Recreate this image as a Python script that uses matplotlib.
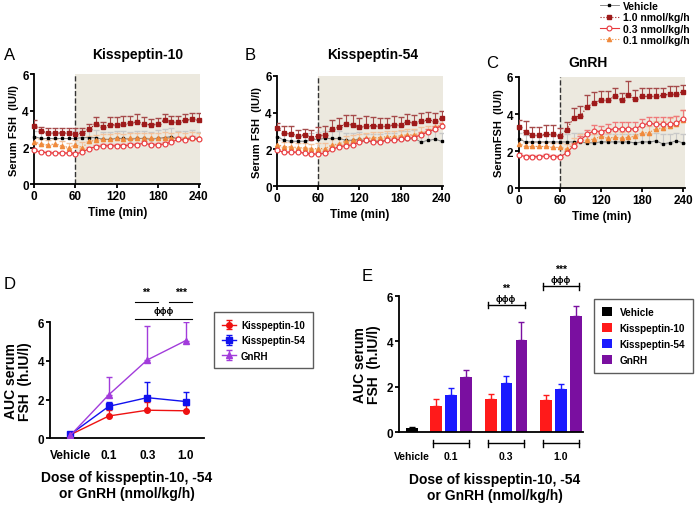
import numpy as np
import matplotlib.pyplot as plt

plt.rcParams['font.family'] = ['Liberation Sans', 'DejaVu Sans']
plt.rcParams['font.weight'] = 'bold'

# ---------------- time course data (panels A-C) ----------------
time = [0, 10, 20, 30, 40, 50, 60, 70, 80, 90, 100, 110, 120, 130, 140, 150,
        160, 170, 180, 190, 200, 210, 220, 230, 240]

# Kisspeptin-10
a_veh = [2.6, 2.5, 2.5, 2.5, 2.5, 2.5, 2.5, 2.55, 2.55, 2.55, 2.45, 2.45, 2.5, 2.5, 2.45, 2.5,
         2.5, 2.45, 2.5, 2.55, 2.6, 2.45, 2.45, 2.55, 2.45]
a_10 = [3.2, 2.9, 2.8, 2.8, 2.8, 2.8, 2.75, 2.8, 3.0, 3.3, 3.1, 3.25, 3.25, 3.3, 3.35, 3.4,
        3.3, 3.25, 3.3, 3.5, 3.4, 3.4, 3.5, 3.55, 3.5]
a_03 = [1.85, 1.75, 1.72, 1.7, 1.7, 1.7, 1.65, 1.75, 1.95, 2.05, 2.1, 2.1, 2.1, 2.1, 2.15, 2.15,
        2.25, 2.15, 2.15, 2.2, 2.3, 2.45, 2.4, 2.5, 2.45]
a_01 = [2.3, 2.2, 2.15, 2.2, 2.1, 2.0, 2.15, 2.0, 2.35, 2.4, 2.45, 2.45, 2.5, 2.45, 2.5, 2.5,
        2.5, 2.5, 2.5, 2.55, 2.5, 2.55, 2.5, 2.55, 2.5]
a_veh_err = [0.3, 0.35, 0.35, 0.35, 0.35, 0.4, 0.4, 0.35, 0.4, 0.4, 0.4, 0.4, 0.4, 0.4, 0.4, 0.4,
             0.4, 0.4, 0.45, 0.45, 0.45, 0.45, 0.45, 0.4, 0.4]
a_10_err = [0.3, 0.25, 0.25, 0.25, 0.25, 0.25, 0.3, 0.25, 0.3, 0.35, 0.3, 0.4, 0.4, 0.4, 0.4, 0.45,
            0.35, 0.3, 0.3, 0.35, 0.3, 0.3, 0.35, 0.35, 0.4]
a_03_err = [0.1, 0.08, 0.08, 0.08, 0.08, 0.08, 0.1, 0.1, 0.1, 0.1, 0.1, 0.1, 0.1, 0.1, 0.1, 0.1,
            0.1, 0.1, 0.1, 0.1, 0.12, 0.12, 0.12, 0.12, 0.12]
a_01_err = [0.25, 0.25, 0.25, 0.25, 0.25, 0.25, 0.25, 0.3, 0.3, 0.3, 0.3, 0.3, 0.3, 0.3, 0.3, 0.3,
            0.3, 0.3, 0.3, 0.3, 0.3, 0.3, 0.3, 0.3, 0.3]

# Kisspeptin-54
b_veh = [2.7, 2.5, 2.45, 2.45, 2.45, 2.55, 2.55, 2.6, 2.6, 2.6, 2.5, 2.5, 2.55, 2.45, 2.45, 2.45,
         2.5, 2.5, 2.55, 2.55, 2.6, 2.4, 2.5, 2.55, 2.45]
b_10 = [3.15, 2.9, 2.85, 2.75, 2.8, 2.6, 2.75, 2.8, 3.1, 3.2, 3.4, 3.35, 3.2, 3.3, 3.3, 3.25,
        3.25, 3.35, 3.35, 3.5, 3.45, 3.55, 3.6, 3.55, 3.7]
b_03 = [1.95, 1.85, 1.85, 1.85, 1.8, 1.75, 1.75, 1.8, 2.0, 2.15, 2.2, 2.25, 2.4, 2.5, 2.4, 2.4,
        2.5, 2.5, 2.55, 2.6, 2.65, 2.8, 2.95, 3.1, 3.3]
b_01 = [2.25, 2.15, 2.15, 2.1, 2.1, 2.05, 2.05, 2.05, 2.25, 2.3, 2.45, 2.5, 2.55, 2.6, 2.65, 2.65,
        2.7, 2.7, 2.75, 2.8, 2.8, 2.9, 3.0, 3.2, 3.35]
b_veh_err = [0.35, 0.35, 0.35, 0.35, 0.35, 0.35, 0.4, 0.4, 0.4, 0.4, 0.4, 0.4, 0.4, 0.4, 0.4, 0.4,
             0.4, 0.4, 0.45, 0.45, 0.45, 0.45, 0.45, 0.45, 0.45]
b_10_err = [0.3, 0.4, 0.45, 0.3, 0.3, 0.45, 0.45, 0.5, 0.5, 0.5, 0.5, 0.55, 0.5, 0.5, 0.45, 0.45,
            0.45, 0.45, 0.4, 0.45, 0.45, 0.45, 0.45, 0.45, 0.4]
b_03_err = [0.1, 0.08, 0.08, 0.08, 0.08, 0.08, 0.1, 0.1, 0.1, 0.1, 0.1, 0.1, 0.1, 0.1, 0.1, 0.1,
            0.12, 0.12, 0.12, 0.12, 0.12, 0.15, 0.15, 0.15, 0.15]
b_01_err = [0.25, 0.25, 0.25, 0.25, 0.25, 0.25, 0.3, 0.3, 0.3, 0.3, 0.3, 0.3, 0.3, 0.3, 0.3, 0.3,
            0.3, 0.3, 0.3, 0.3, 0.3, 0.3, 0.3, 0.3, 0.3]

# GnRH
c_veh = [2.65, 2.5, 2.5, 2.5, 2.5, 2.5, 2.5, 2.5, 2.5, 2.5, 2.45, 2.45, 2.5, 2.5, 2.5, 2.5,
         2.5, 2.45, 2.5, 2.5, 2.55, 2.4, 2.45, 2.55, 2.45]
c_10 = [3.3, 3.05, 2.85, 2.85, 2.9, 2.9, 2.8, 3.15, 3.8, 3.9, 4.4, 4.6, 4.75, 4.75, 4.95, 4.75,
        5.0, 4.8, 4.95, 4.95, 4.95, 5.0, 5.1, 5.1, 5.2]
c_03 = [1.8, 1.7, 1.7, 1.7, 1.75, 1.7, 1.7, 1.9, 2.3, 2.6, 2.9, 3.1, 3.05, 3.15, 3.2, 3.2,
        3.2, 3.2, 3.4, 3.5, 3.45, 3.45, 3.45, 3.5, 3.75]
c_01 = [2.4, 2.25, 2.25, 2.25, 2.25, 2.2, 2.2, 2.1, 2.4, 2.6, 2.6, 2.65, 2.8, 2.7, 2.75, 2.7,
        2.75, 2.8, 3.0, 3.0, 3.2, 3.25, 3.35, 3.45, 3.7]
c_veh_err = [0.35, 0.35, 0.35, 0.35, 0.35, 0.35, 0.4, 0.4, 0.5, 0.5, 0.45, 0.45, 0.45, 0.45, 0.45, 0.45,
             0.45, 0.45, 0.45, 0.45, 0.45, 0.5, 0.5, 0.45, 0.5]
c_10_err = [0.4, 0.55, 0.45, 0.45, 0.5, 0.5, 0.45, 0.4, 0.5, 0.55, 0.6, 0.6, 0.5, 0.5, 0.45, 0.4,
            0.8, 0.5, 0.45, 0.45, 0.45, 0.4, 0.4, 0.4, 0.35]
c_03_err = [0.1, 0.08, 0.08, 0.08, 0.08, 0.08, 0.1, 0.1, 0.15, 0.2, 0.25, 0.3, 0.3, 0.3, 0.35, 0.35,
            0.35, 0.35, 0.35, 0.35, 0.4, 0.4, 0.4, 0.4, 0.45]
c_01_err = [0.25, 0.25, 0.25, 0.25, 0.25, 0.25, 0.25, 0.3, 0.3, 0.3, 0.3, 0.3, 0.3, 0.3, 0.35, 0.35,
            0.35, 0.35, 0.35, 0.35, 0.4, 0.4, 0.45, 0.45, 0.5]

# ---------------- AUC data (panel D) ----------------
d_labels = ['Vehicle', '0.1', '0.3', '1.0']
d_k10 = [0.18, 1.15, 1.45, 1.42]
d_k54 = [0.2, 1.65, 2.1, 1.9]
d_gnrh = [0.15, 2.25, 4.05, 5.05]
d_k10_err = [0.05, 0.3, 0.45, 0.3]
d_k54_err = [0.05, 0.25, 0.8, 0.5]
d_gnrh_err = [0.05, 0.9, 1.75, 0.97]

# ---------------- AUC bars (panel E) ----------------
e_groups = ['0.1', '0.3', '1.0']
e_vehicle = 0.18
e_vehicle_err = 0.05
e_k10 = [1.15, 1.45, 1.42]
e_k54 = [1.65, 2.15, 1.9]
e_gnrh = [2.42, 4.05, 5.1]
e_k10_err = [0.3, 0.25, 0.22]
e_k54_err = [0.28, 0.33, 0.2]
e_gnrh_err = [0.32, 0.8, 0.45]

col_veh = 'black'
col_10 = '#9E1A1A'
col_03 = '#E8383D'
col_01 = '#F08A3C'

fig = plt.figure(figsize=(7.0, 5.06), dpi=100)


def time_panel(rect, ylab, veh, s10, s03, s01, veh_e, e10, e03, e01):
    ax = fig.add_axes(rect)
    ax.axvspan(60, 250, color='#ECE9DF', zorder=0, lw=0)
    ax.axvline(60, color='#333333', ls='--', lw=1.0, zorder=1)
    ax.errorbar(time, veh, yerr=[np.zeros(len(veh)), veh_e], fmt='none', ecolor='#C8C8C8',
                elinewidth=0.8, capsize=2, zorder=2)
    ax.errorbar(time, s01, yerr=[np.zeros(len(s01)), e01], fmt='none', ecolor='#F3C29C',
                elinewidth=0.8, capsize=2, zorder=2)
    ax.errorbar(time, s10, yerr=[np.zeros(len(s10)), e10], fmt='none', ecolor='#A54A4A',
                elinewidth=0.8, capsize=2, zorder=3)
    ax.errorbar(time, s03, yerr=[np.zeros(len(s03)), e03], fmt='none', ecolor='#EF7A7A',
                elinewidth=0.8, capsize=2, zorder=3)
    l1, = ax.plot(time, veh, color='#777777', lw=0.6, marker='s', ms=2.0, mfc=col_veh,
                  mec=col_veh, label='Vehicle', zorder=4, clip_on=False)
    l2, = ax.plot(time, s10, color=col_10, lw=0.8, ls=':', marker='s', ms=3, mfc=col_10,
                  mec=col_10, label='1.0 nmol/kg/h', zorder=5, clip_on=False)
    l3, = ax.plot(time, s03, color=col_03, lw=0.8, marker='o', ms=3.5, mfc='white',
                  mec=col_03, mew=0.8, label='0.3 nmol/kg/h', zorder=5, clip_on=False)
    l4, = ax.plot(time, s01, color=col_01, lw=0.8, ls=':', marker='^', ms=3, mfc=col_01,
                  mec=col_01, label='0.1 nmol/kg/h', zorder=4, clip_on=False)
    ax.set_xlim(0, 242)
    ax.set_ylim(0, 6)
    ax.set_xticks([0, 60, 120, 180, 240])
    ax.set_yticks([0, 2, 4, 6])
    ax.spines['top'].set_visible(False)
    ax.spines['right'].set_visible(False)
    ax.spines['left'].set_linewidth(1.3)
    ax.spines['bottom'].set_linewidth(1.3)
    ax.tick_params(labelsize=8.5, width=1.3, length=3, pad=1)
    ax.set_xlabel('Time (min)', fontsize=8.5, fontweight='bold', labelpad=3)
    ax.set_ylabel(ylab, fontsize=8, fontweight='bold', labelpad=2)
    return ax, [l1, l2, l3, l4]


time_panel([0.049, 0.634, 0.237, 0.217], 'Serum FSH  (IU/l)',
           a_veh, a_10, a_03, a_01, a_veh_err, a_10_err, a_03_err, a_01_err)
time_panel([0.396, 0.630, 0.237, 0.218], 'Serum FSH  (IU/l)',
           b_veh, b_10, b_03, b_01, b_veh_err, b_10_err, b_03_err, b_01_err)
axc, handles = time_panel([0.741, 0.626, 0.237, 0.220], 'SerumFSH  (IU/l)',
                          c_veh, c_10, c_03, c_01, c_veh_err, c_10_err, c_03_err, c_01_err)

# titles and panel letters
fig.text(0.196, 0.891, 'Kisspeptin-10', ha='center', va='center', fontsize=10)
fig.text(0.533, 0.891, 'Kisspeptin-54', ha='center', va='center', fontsize=10)
fig.text(0.840, 0.875, 'GnRH', ha='center', va='center', fontsize=10)
for x, y, letter in [(0.005, 0.891, 'A'), (0.350, 0.891, 'B'), (0.694, 0.875, 'C'),
                     (0.005, 0.437, 'D'), (0.517, 0.453, 'E')]:
    fig.text(x, y, letter, ha='left', va='center', fontsize=12, fontweight='normal')

fig.legend(handles=handles, loc='upper left', bbox_to_anchor=(0.855, 0.998), frameon=False,
           handlelength=1.9, labelspacing=0.12, handletextpad=0.35, borderaxespad=0,
           borderpad=0.1, prop={'weight': 'bold', 'size': 7.5})

# ---------------- panel D ----------------
axd = fig.add_axes([0.071, 0.132, 0.221, 0.229])
xd = np.arange(len(d_labels))
axd.errorbar(xd, d_k10, yerr=[np.zeros(4), d_k10_err], color='#EE1111', marker='o', ms=4,
             lw=1, capsize=2, elinewidth=1, label='Kisspeptin-10', zorder=3)
axd.errorbar(xd, d_k54, yerr=[np.zeros(4), d_k54_err], color='#1111EE', marker='s', ms=4,
             lw=1, capsize=2, elinewidth=1, label='Kisspeptin-54', zorder=3)
axd.errorbar(xd, d_gnrh, yerr=[np.zeros(4), d_gnrh_err], color='#A23CDB', marker='^', ms=4,
             lw=1, capsize=2, elinewidth=1, label='GnRH', zorder=3)
axd.set_xlim(-0.54, 3.49)
axd.set_ylim(0, 6)
axd.set_xticks(xd)
axd.set_xticklabels(d_labels)
axd.set_yticks([0, 2, 4, 6])
for s in ['top', 'right']:
    axd.spines[s].set_visible(False)
for s in ['left', 'bottom']:
    axd.spines[s].set_linewidth(1.3)
axd.tick_params(axis='y', labelsize=8.5, width=1.3, length=3, pad=1)
axd.tick_params(axis='x', labelsize=8.5, length=0, pad=8)
axd.set_ylabel('AUC serum\nFSH  (h.IU/l)', fontsize=10, fontweight='bold', labelpad=4,
               linespacing=1.0)
axd.set_xlabel('Dose of kisspeptin-10, -54\nor GnRH (nmol/kg/h)', fontsize=10,
               fontweight='bold', labelpad=6, linespacing=1.2)
axd.legend(loc='upper left', bbox_to_anchor=(1.03, 1.13), fancybox=False, edgecolor='#333333',
           prop={'weight': 'bold', 'size': 7}, handlelength=1.5, borderpad=0.8,
           labelspacing=0.55, handletextpad=0.5)
# significance bars
axd.plot([1.67, 2.27], [7.05, 7.05], color='black', lw=0.8, clip_on=False)
axd.text(1.97, 7.6, '**', ha='center', va='center', fontsize=7.5)
axd.plot([2.57, 3.17], [7.05, 7.05], color='black', lw=0.8, clip_on=False)
axd.text(2.87, 7.6, '***', ha='center', va='center', fontsize=7.5)
axd.plot([1.67, 3.17], [6.15, 6.15], color='black', lw=0.8, clip_on=False)
axd.text(2.42, 6.6, 'ϕϕϕ', ha='center', va='center', fontsize=6.5)

# ---------------- panel E ----------------
axe = fig.add_axes([0.570, 0.144, 0.263, 0.269])
centers = np.array([2.6, 6.27, 9.93])
bw = 0.75
axe.bar(0, e_vehicle, bw, color='black', yerr=[[0], [e_vehicle_err]], ecolor='black',
        capsize=2, error_kw={'elinewidth': 1}, label='Vehicle')
axe.bar(centers - 1, e_k10, bw, color='#FF1A1A', yerr=[np.zeros(3), e_k10_err],
        ecolor='#FF1A1A', capsize=2, error_kw={'elinewidth': 1}, label='Kisspeptin-10')
axe.bar(centers, e_k54, bw, color='#1A1AFF', yerr=[np.zeros(3), e_k54_err],
        ecolor='#1A1AFF', capsize=2, error_kw={'elinewidth': 1}, label='Kisspeptin-54')
axe.bar(centers + 1, e_gnrh, bw, color='#7A0FA0', yerr=[np.zeros(3), e_gnrh_err],
        ecolor='#7A0FA0', capsize=2, error_kw={'elinewidth': 1}, label='GnRH')
axe.set_xlim(-0.87, 11.4)
axe.set_ylim(0, 6)
axe.set_yticks([0, 2, 4, 6])
axe.set_xticks([])
for s in ['top', 'right']:
    axe.spines[s].set_visible(False)
for s in ['left', 'bottom']:
    axe.spines[s].set_linewidth(1.3)
axe.tick_params(axis='y', labelsize=8.5, width=1.3, length=3, pad=1)
axe.set_ylabel('AUC serum\nFSH  (h.IU/l)', fontsize=10, fontweight='bold', labelpad=4,
               linespacing=1.0)
# group brackets under the axis
for c, g in zip(centers, e_groups):
    axe.plot([c - 1.2, c + 1.2], [-0.5, -0.5], color='black', lw=1, clip_on=False)
    axe.plot([c - 1.2, c - 1.2], [-0.33, -0.67], color='black', lw=1, clip_on=False)
    axe.plot([c + 1.2, c + 1.2], [-0.33, -0.67], color='black', lw=1, clip_on=False)
    axe.text(c, -1.05, g, ha='center', va='center', fontsize=7.5)
axe.text(0, -1.05, 'Vehicle', ha='center', va='center', fontsize=7.5)
axe.text(5.5, -1.75, 'Dose of kisspeptin-10, -54\nor GnRH (nmol/kg/h)', ha='center', va='top',
         fontsize=10, linespacing=1.2)
# significance brackets above
for c, ytop, star in [(centers[1], 5.6, '**'), (centers[2], 6.43, '***')]:
    axe.plot([c - 1.23, c + 1.23], [ytop, ytop], color='black', lw=1, clip_on=False)
    axe.plot([c - 1.23, c - 1.23], [ytop - 0.15, ytop + 0.15], color='black', lw=1, clip_on=False)
    axe.plot([c + 1.23, c + 1.23], [ytop - 0.15, ytop + 0.15], color='black', lw=1, clip_on=False)
    axe.text(c, ytop + 0.3, 'ϕϕϕ', ha='center', va='center', fontsize=6.5)
    axe.text(c, ytop + 0.78, star, ha='center', va='center', fontsize=7.5)
axe.legend(loc='upper left', bbox_to_anchor=(1.03, 1.015), fancybox=False, edgecolor='#333333',
           prop={'weight': 'bold', 'size': 7.2}, handlelength=1.0, handleheight=1.0,
           borderpad=0.8, labelspacing=0.6)

fig.savefig('out.png', dpi=100)
